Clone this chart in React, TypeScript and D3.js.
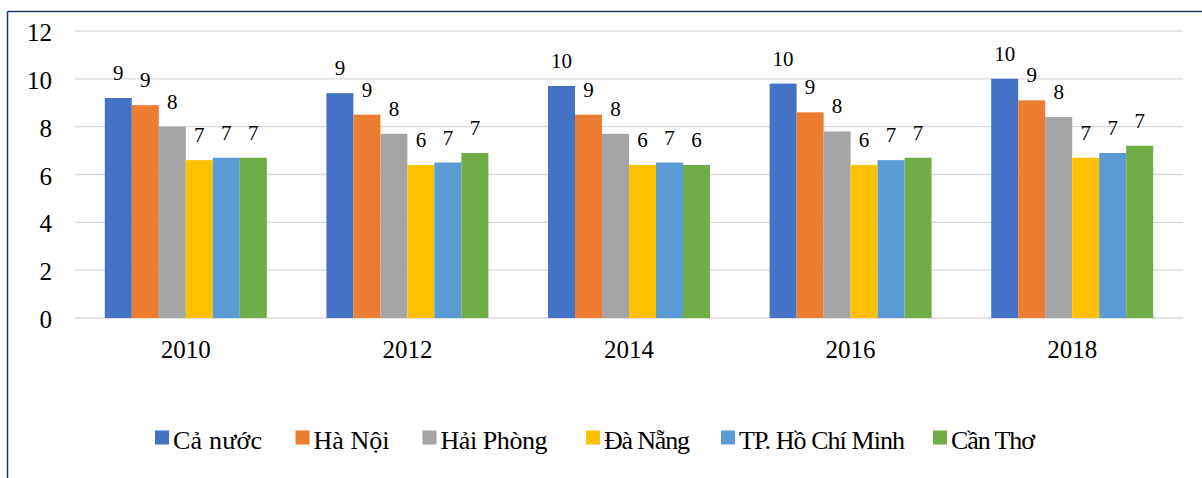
import React from "react";
import * as d3 from "d3";

const categories = ["2010", "2012", "2014", "2016", "2018"];
const seriesNames = ["Cả nước", "Hà Nội", "Hải Phòng", "Đà Nẵng", "TP. Hồ Chí Minh", "Cần Thơ"];
const caNuoc = [9.2, 9.4, 9.7, 9.8, 10.0];
const haNoi = [8.9, 8.5, 8.5, 8.6, 9.1];
const haiPhong = [8.0, 7.7, 7.7, 7.8, 8.4];
const daNang = [6.6, 6.4, 6.4, 6.4, 6.7];
const hcm = [6.7, 6.5, 6.5, 6.6, 6.9];
const canTho = [6.7, 6.9, 6.4, 6.7, 7.2];
const yTicks = [0, 2, 4, 6, 8, 10, 12];
const colors = ["#4472C4", "#ED7D31", "#A5A5A5", "#FFC000", "#5B9BD5", "#70AD47"];

const seriesValues = [caNuoc, haNoi, haiPhong, daNang, hcm, canTho];

// legend layout (marker left edges and fitted text widths, px)
const legendPos = [155, 295.5, 422.5, 586, 721, 933];
const legendTextW = [89, 76, 107, 86, 166, 84];

const W = 1202;
const H = 478;
const FONT = '"Liberation Serif", "Times New Roman", serif';

export default function App() {
  const plotLeft = 75;
  const plotRight = 1183;
  const plotTop = 31;
  const plotBottom = 318;

  const x0 = d3.scaleBand<string>().domain(categories).range([plotLeft, plotRight]).paddingInner(0).paddingOuter(0);
  const barW = 27;
  const groupW = barW * seriesNames.length;
  const x1 = d3.scaleBand<string>().domain(seriesNames).range([0, groupW]).padding(0);
  const y = d3.scaleLinear().domain([0, 12]).range([plotBottom, plotTop]);

  const marker = 14;
  const txt = { fontFamily: FONT };

  return (
    <svg
      width={W}
      height={H}
      style={{ position: "absolute", left: 0, top: 0, background: "#fff", fontFamily: FONT }}
    >
      <rect x={0} y={0} width={W} height={H} fill="#fff" />
      {/* frame */}
      <line x1={7.5} y1={11.5} x2={W} y2={11.5} stroke="#1F3864" strokeWidth={1.5} />
      <line x1={7.5} y1={11.5} x2={7.5} y2={H} stroke="#1F3864" strokeWidth={1.5} />

      {/* gridlines */}
      {yTicks.map((t) => (
        <line key={"g" + t} x1={plotLeft} x2={plotRight} y1={y(t)} y2={y(t)} stroke="#D9D9D9" strokeWidth={1.3} />
      ))}
      {/* y tick labels */}
      {yTicks.map((t) => (
        <text key={"t" + t} x={52} y={y(t) + 10} textAnchor="end" fontSize={25} fill="#000" style={txt}>
          {t}
        </text>
      ))}

      {/* bars */}
      {categories.map((c, ci) => {
        const gx = (x0(c) as number) + x0.bandwidth() / 2 - groupW / 2;
        return (
          <g key={c}>
            {seriesNames.map((s, si) => {
              const v = seriesValues[si][ci];
              const bx = gx + (x1(s) as number);
              return (
                <g key={s}>
                  <rect x={bx} y={y(v)} width={x1.bandwidth()} height={y(0) - y(v)} fill={colors[si]} />
                  <text x={bx + x1.bandwidth() / 2} y={y(v) - 18} textAnchor="middle" fontSize={21} fill="#000" style={txt}>
                    {Math.round(v)}
                  </text>
                </g>
              );
            })}
            <text x={(x0(c) as number) + x0.bandwidth() / 2} y={358} textAnchor="middle" fontSize={25} fill="#000" style={txt}>
              {c}
            </text>
          </g>
        );
      })}

      {/* legend */}
      {seriesNames.map((s, si) => (
        <g key={"l" + s}>
          <rect x={legendPos[si]} y={430.5} width={marker} height={marker} fill={colors[si]} />
          <text
            x={legendPos[si] + marker + 4}
            y={449}
            fontSize={26}
            fill="#000"
            style={txt}
            textLength={legendTextW[si]}
            lengthAdjust="spacing"
          >
            {s}
          </text>
        </g>
      ))}
    </svg>
  );
}
